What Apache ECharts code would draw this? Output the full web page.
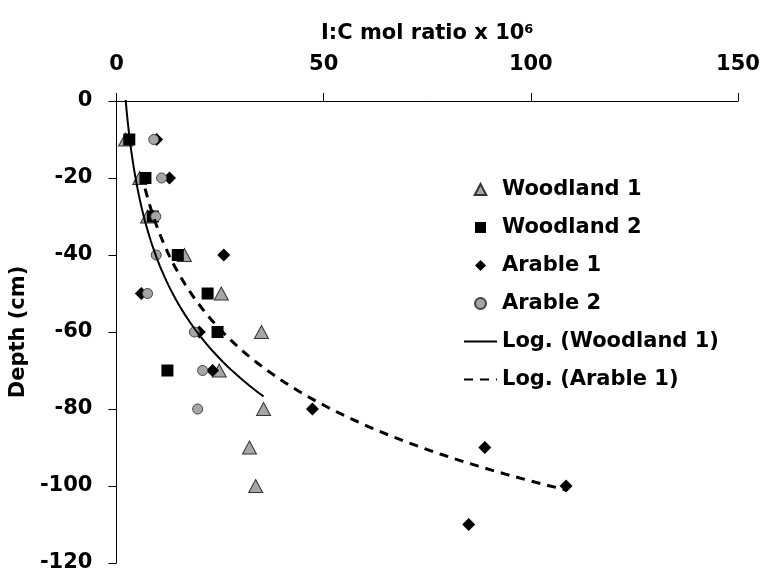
<!DOCTYPE html>
<html>
<head>
<meta charset="utf-8">
<script src="https://cdn.jsdelivr.net/npm/echarts@6/dist/echarts.min.js"></script>
<style>html,body{margin:0;padding:0;background:#fff}#c{width:766px;height:574px}</style>
</head>
<body>
<div id="c"></div>
<script>
// ---- data ----
const xTicks = [0, 50, 100, 150];
const yTicks = [0, -20, -40, -60, -80, -100, -120];

const woodland1Depth = [-10, -20, -30, -40, -50, -60, -70, -80, -90, -100];
const woodland1Ratio = [2.2, 5.6, 7.5, 16.4, 25.3, 35.0, 24.8, 35.5, 32.1, 33.6];

const woodland2Depth = [-10, -20, -30, -40, -50, -60, -70];
const woodland2Ratio = [3.1, 7.0, 8.8, 14.8, 22.0, 24.4, 12.3];

const arable1Depth = [-10, -20, -30, -40, -50, -60, -70, -80, -90, -100, -110];
const arable1Ratio = [9.7, 12.8, 9.0, 25.9, 6.0, 20.0, 23.2, 47.3, 88.9, 108.5, 85.0];

const arable2Depth = [-10, -20, -30, -40, -50, -60, -70, -80];
const arable2Ratio = [9.0, 10.9, 9.5, 9.6, 7.5, 18.8, 20.8, 19.6];

// ---- helpers ----
function pairs(xs, ys) { return xs.map((x, i) => [x, ys[i]]); }
// Excel-style logarithmic trendline: depth = a*ln(ratio) + b, least squares over the series
function logTrend(xs, ys, n) {
  const L = xs.map(Math.log);
  const mL = L.reduce((s, v) => s + v, 0) / L.length;
  const mY = ys.reduce((s, v) => s + v, 0) / ys.length;
  let sxy = 0, sxx = 0;
  L.forEach((l, i) => { sxy += (l - mL) * (ys[i] - mY); sxx += (l - mL) * (l - mL); });
  const a = sxy / sxx, b = mY - a * mL;
  const lo = Math.min(...xs), hi = Math.max(...xs);
  const out = [];
  for (let k = 0; k <= n; k++) {
    const x = lo * Math.pow(hi / lo, k / n);
    out.push([x, a * Math.log(x) + b]);
  }
  return out;
}

const FONT = 'DejaVu Sans';
const txt = { fontFamily: FONT, fontWeight: 'bold', fontSize: 21, color: '#000' };
const TRI = 'path://M5,0 L10,9.5 L0,9.5 Z';
const SQR = 'path://M0,0 L10,0 L10,10 L0,10 Z';
const DIA = 'path://M5,0 L10,5 L5,10 L0,5 Z';
const HIDDEN_SYMBOL = { color: 'rgba(0,0,0,0)', borderWidth: 0, borderColor: 'rgba(0,0,0,0)' };

const chart = echarts.init(document.getElementById('c'), null, { renderer: 'canvas' });
chart.setOption({
  animation: false,
  backgroundColor: '#fff',
  grid: { left: 116, right: 28, top: 101, bottom: 11, containLabel: false },
  xAxis: {
    type: 'value', position: 'top', min: xTicks[0], max: xTicks[xTicks.length - 1], interval: 50,
    name: 'I:C mol ratio x 10{sup|6}', nameLocation: 'middle', nameGap: 57,
    nameTextStyle: Object.assign({}, txt, { rich: { sup: { fontFamily: FONT, fontWeight: 'bold', fontSize: 13, verticalAlign: 'top', padding: [0, 0, 8, 0] } } }),
    axisLine: { show: true, lineStyle: { color: '#000', width: 1 } },
    axisTick: { show: true, length: 8, lineStyle: { color: '#000' } },
    axisLabel: Object.assign({}, txt, { margin: 26 }),
    splitLine: { show: false }
  },
  yAxis: {
    type: 'value', min: yTicks[yTicks.length - 1], max: yTicks[0], interval: 20,
    name: 'Depth (cm)', nameLocation: 'middle', nameGap: 66, nameRotate: 90,
    nameTextStyle: txt,
    axisLine: { show: true, lineStyle: { color: '#000', width: 1 } },
    axisTick: { show: true, length: 8, lineStyle: { color: '#000' } },
    axisLabel: Object.assign({}, txt, { margin: 24 }),
    splitLine: { show: false }
  },
  legend: {
    orient: 'vertical', left: 458, top: 174, itemWidth: 33, itemHeight: 11, itemGap: 17,
    symbolKeepAspect: true,
    textStyle: txt,
    data: [
      { name: 'Woodland 1', icon: TRI }, { name: 'Woodland 2', icon: SQR },
      { name: 'Arable 1', icon: DIA }, { name: 'Arable 2', icon: 'circle' },
      { name: 'Log. (Woodland 1)', itemStyle: HIDDEN_SYMBOL },
      { name: 'Log. (Arable 1)', itemStyle: HIDDEN_SYMBOL }
    ]
  },
  series: [
    { name: 'Woodland 1', type: 'scatter', symbol: 'triangle', symbolSize: [14, 13],
      itemStyle: { color: '#a6a6a6', borderColor: '#333', borderWidth: 1, opacity: 1 },
      data: pairs(woodland1Ratio, woodland1Depth), z: 2 },
    { name: 'Woodland 2', type: 'scatter', symbol: 'rect', symbolSize: 12,
      itemStyle: { color: '#000', borderWidth: 0, opacity: 1 },
      data: pairs(woodland2Ratio, woodland2Depth), z: 3 },
    { name: 'Arable 1', type: 'scatter', symbol: 'diamond', symbolSize: 13,
      itemStyle: { color: '#000', opacity: 1 },
      data: pairs(arable1Ratio, arable1Depth), z: 4 },
    { name: 'Arable 2', type: 'scatter', symbol: 'circle', symbolSize: 10,
      itemStyle: { color: '#a6a6a6', borderColor: '#444', borderWidth: 1, opacity: 1 },
      data: pairs(arable2Ratio, arable2Depth), z: 5 },
    { name: 'Log. (Woodland 1)', type: 'line', symbol: 'none', showSymbol: false,
      lineStyle: { color: '#000', width: 2, type: 'solid' }, itemStyle: { color: '#000' },
      data: logTrend(woodland1Ratio, woodland1Depth, 80), z: 6 },
    { name: 'Log. (Arable 1)', type: 'line', symbol: 'none', showSymbol: false,
      lineStyle: { color: '#000', width: 3, type: [9, 7] }, itemStyle: { color: '#000' },
      data: logTrend(arable1Ratio, arable1Depth, 80), z: 6 }
  ]
});
</script>
</body>
</html>
